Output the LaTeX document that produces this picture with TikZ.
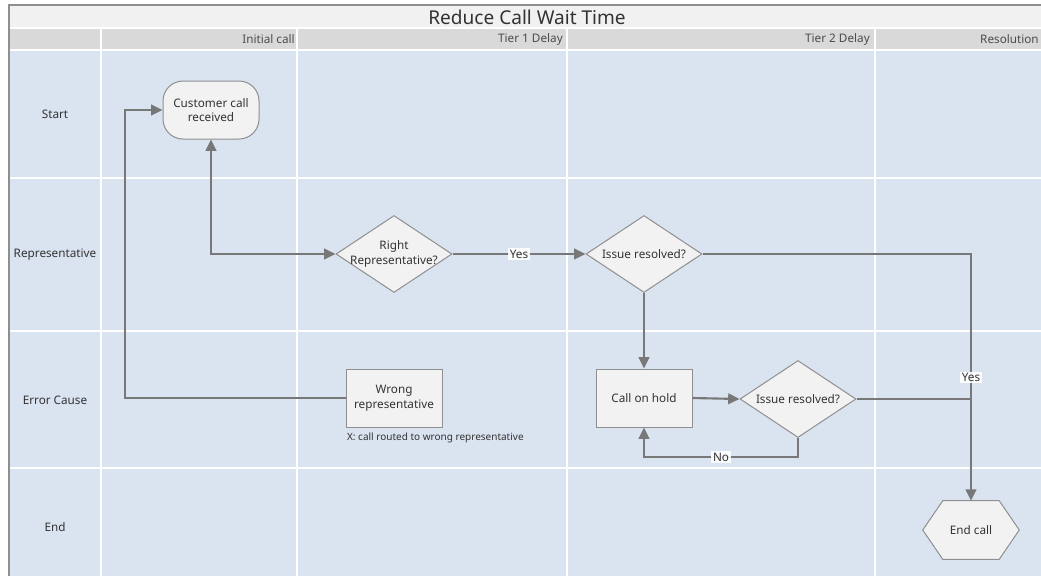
\documentclass[tikz,border=0pt]{standalone}
\usepackage{fontspec}
\setmainfont{Noto Sans}
\usepackage{tikz}
\usetikzlibrary{arrows.meta,shapes.geometric,positioning}
\definecolor{lanebg}{rgb}{0.855,0.89,0.94}
\definecolor{titlebg}{rgb}{0.945,0.945,0.945}
\definecolor{headbg}{rgb}{0.85,0.85,0.85}
\definecolor{boxfill}{rgb}{0.949,0.949,0.949}
\definecolor{boxline}{rgb}{0.56,0.56,0.56}
\definecolor{flowline}{rgb}{0.47,0.47,0.47}
\definecolor{txtgray}{rgb}{0.2,0.2,0.2}
\definecolor{headtxt}{rgb}{0.3,0.3,0.3}
\tikzset{
  txt/.style={text=txtgray,font=\fontsize{8.8}{11}\selectfont,align=center},
  box/.style={txt,draw=boxline,fill=boxfill,line width=0.75pt,minimum width=72pt,minimum height=43.5pt,inner sep=1pt},
  startbox/.style={box,rounded corners=15pt},
  decision/.style={diamond,draw=boxline,fill=boxfill,line width=0.75pt,minimum width=87pt,minimum height=57.75pt,inner sep=0pt},
  lanelabel/.style={txt},
  headlabel/.style={text=headtxt,font=\fontsize{8.8}{11}\selectfont,anchor=east,inner sep=0pt},
  flow/.style={draw=flowline,line width=1.6pt,-{Triangle[length=8.5pt,width=8pt]}},
  plainflow/.style={draw=flowline,line width=1.6pt},
  edgetag/.style={txt,fill=white,fill opacity=0.9,text opacity=1,inner sep=1.2pt},
  note/.style={text=txtgray,font=\fontsize{7.5}{9}\selectfont,inner sep=1pt}
}
\begin{document}
\begin{tikzpicture}[line cap=butt,line join=miter,x=0.75pt,y=-0.75pt]
\useasboundingbox (0,0) rectangle (1041,576);
\fill[white] (0,0) rectangle (1041,576);
% swimlane frame
\fill[titlebg] (9,5) rectangle (1041,28);
\fill[headbg] (9,28) rectangle (1041,50);
\fill[lanebg] (9,50) rectangle (1041,576);
\foreach \y in {28,50,178,331,468}
  \draw[white,line width=1.1pt] (9,\y) -- (1041,\y);
\foreach \x in {101,297,567,875}
  \draw[white,line width=1.1pt] (\x,28) -- (\x,576);
\draw[boxline,line width=0.8pt] (9,576) -- (9,5) -- (1041,5);
\node[text=txtgray,font=\fontsize{14.3}{16}\selectfont] (title) at (527,17) {Reduce Call Wait Time};
\node[headlabel] (hinit) at (295,39) {Initial call};
\node[headlabel] (htier1) at (563,39) {Tier 1 Delay};
\node[headlabel] (htier2) at (870,39) {Tier 2 Delay};
\node[headlabel] (hres) at (1039,39) {Resolution};
\node[lanelabel] (lstart) at (55,114) {Start};
\node[lanelabel] (lrep) at (55,255) {Representative};
\node[lanelabel] (lerr) at (55,400) {Error Cause};
\node[lanelabel] (lend) at (55,527) {End};
% steps
\node[startbox] (call) at (211,110) {Customer call\\received};
\node[decision] (rightrep) at (394,254) {};
\node[txt] (rightreptxt) at (rightrep.center) {Right\\Representative?};
\node[decision] (resolved1) at (644,254) {};
\node[txt] (resolved1txt) at (resolved1.center) {Issue resolved?};
\node[box] (hold) at (644,398) {Call on hold};
\node[decision] (resolved2) at (798,399) {};
\node[txt] (resolved2txt) at (resolved2.center) {Issue resolved?};
\node[box] (wrong) at (394,398) {Wrong\\representative};
\node[note,anchor=north west] (wrongnote) at ([yshift=-2.5pt]wrong.south west) {X: call routed to wrong representative};
\node[txt,minimum width=72pt,minimum height=43.5pt,inner sep=0pt] (endcall) at (971,530) {};
\draw[boxline,fill=boxfill,line width=0.75pt] (endcall.west) -- ([xshift=15pt]endcall.north west) -- ([xshift=-15pt]endcall.north east) -- (endcall.east) -- ([xshift=-15pt]endcall.south east) -- ([xshift=15pt]endcall.south west) -- cycle;
\node[txt] (endcalltxt) at (endcall.center) {End call};
% connectors
\coordinate (backx) at (125,110);
\coordinate (nobend) at (798,457);
\draw[flow] (wrong.west) -| (backx) -- (call.west);
\draw[flow,{Triangle[length=8.5pt,width=8pt]}-{Triangle[length=8.5pt,width=8pt]}] (call.south) |- (rightrep.west);
\draw[flow] (rightrep.east) -- node[edgetag] {Yes} (resolved1.west);
\draw[flow] (resolved1.east) -| node[edgetag,pos=0.75] {Yes} (endcall.north);
\draw[flow] (resolved1.south) -- (hold.north);
\draw[flow] (hold.east) -- (resolved2.west);
\draw[plainflow] (resolved2.east) -- (resolved2.east -| endcall.north);
\draw[flow] (resolved2.south) -- (nobend) -| node[edgetag,pos=0.25] {No} (hold.south);
\end{tikzpicture}
\end{document}
